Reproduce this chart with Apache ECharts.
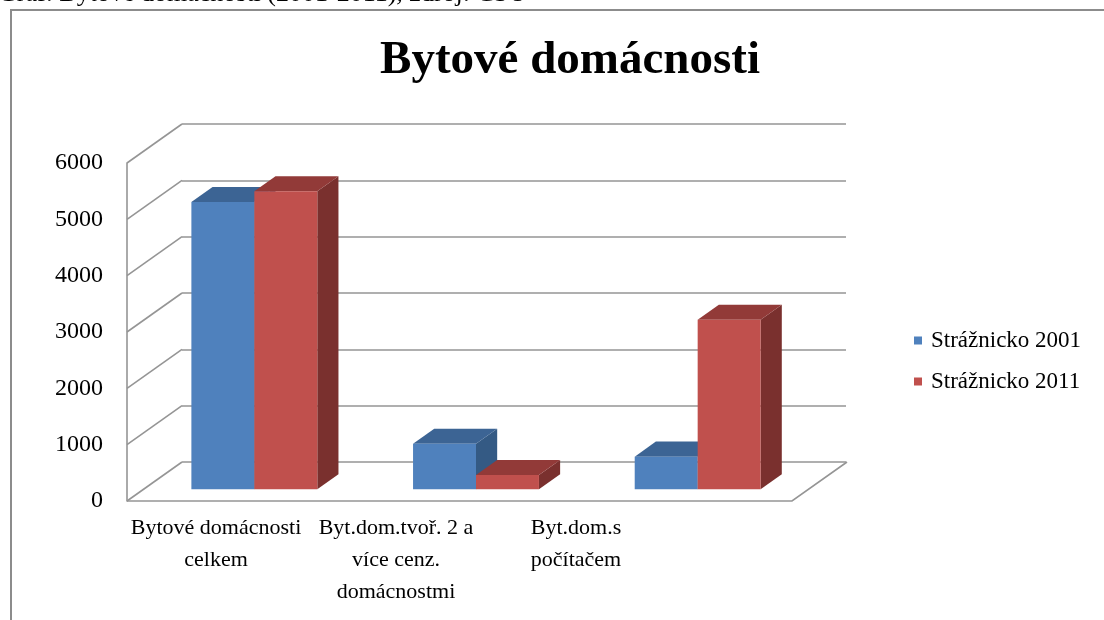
<!DOCTYPE html>
<html>
<head>
<meta charset="utf-8">
<script src="https://cdn.jsdelivr.net/npm/echarts@6/dist/echarts.min.js"></script>
<style>
  html, body { margin: 0; padding: 0; background: #fff; }
  #main { width: 1104px; height: 620px; }
</style>
</head>
<body>
<div id="main"></div>
<script>
// data
var categories = ['Bytové domácnosti\ncelkem', 'Byt.dom.tvoř. 2 a\nvíce cenz.\ndomácnostmi', 'Byt.dom.s\npočítačem'];
var seriesNames = ['Strážnicko 2001', 'Strážnicko 2011'];
var values2001 = [5100, 810, 580];
var values2011 = [5290, 255, 3010];
var yTicks = [0, 1000, 2000, 3000, 4000, 5000, 6000];

// 3d look: depth offset of the back wall, bar placement inside the depth
var DX = 55, DY = -39;
var FRONT = 0.3, DEPTH = 0.385, BAR_FRAC = 0.284;
var GRID_COL = '#959595';
var FONT = '"Liberation Serif", "Times New Roman", serif';

function barRender(idx, face, topc, side) {
  return function (params, api) {
    var cat = api.value(0), v = api.value(1);
    var base = api.coord([cat, 0]);
    var top = api.coord([cat, v]);
    var bw = api.size([1, 0])[0] * BAR_FRAC;
    var fx = DX * FRONT, fy = DY * FRONT;
    var bx = DX * DEPTH, by = DY * DEPTH;
    var x0 = base[0] + fx + (idx === 0 ? -bw : 0);
    var x1 = x0 + bw;
    var yb = base[1] + fy, yt = top[1] + fy;
    return {
      type: 'group',
      children: [
        { type: 'polygon', shape: { points: [[x1, yb], [x1 + bx, yb + by], [x1 + bx, yt + by], [x1, yt]] }, style: { fill: side } },
        { type: 'polygon', shape: { points: [[x0, yt], [x1, yt], [x1 + bx, yt + by], [x0 + bx, yt + by]] }, style: { fill: topc } },
        { type: 'rect', shape: { x: x0, y: yt, width: bw, height: yb - yt }, style: { fill: face } }
      ]
    };
  };
}

var chart = echarts.init(document.getElementById('main'));
var option = {
  animation: false,
  title: {
    text: 'Bytové domácnosti',
    left: 565, top: 32, textAlign: 'center',
    textStyle: { fontFamily: FONT, fontWeight: 'bold', fontSize: 47, color: '#000' }
  },
  legend: {
    orient: 'vertical', left: 909, top: 324,
    itemWidth: 8, itemHeight: 8, itemGap: 18, icon: 'rect',
    data: seriesNames,
    textStyle: { fontFamily: FONT, fontSize: 23, color: '#000', padding: [0, 0, 0, 4] }
  },
  graphic: [
    { type: 'rect', shape: { x: 11, y: 10, width: 1300, height: 800 }, style: { fill: null, stroke: '#8c8c8c', lineWidth: 2 }, silent: true },
    { type: 'text', x: -2, y: 7, style: { text: 'Graf: Bytové domácnosti (2001-2011), zdroj: ČSÚ', fontFamily: FONT, fontSize: 26, fill: '#000', verticalAlign: 'bottom', textVerticalAlign: 'bottom' } }
  ],
  grid: [
    { left: 127, right: 312, top: 163, bottom: 119 },   // front plane
    { left: 126, width: 540, top: 163, bottom: 119 },   // category labels
    { left: 182, right: 258, top: 124, bottom: 158 }    // back wall
  ],
  xAxis: [
    { type: 'category', gridIndex: 0, data: categories, axisLine: { show: false }, axisTick: { show: false }, axisLabel: { show: false } },
    { type: 'category', gridIndex: 1, data: categories, axisLine: { show: false }, axisTick: { show: false },
      axisLabel: { margin: 11, fontFamily: FONT, fontSize: 22, lineHeight: 32, color: '#000', interval: 0 } },
    { type: 'category', gridIndex: 2, data: categories, axisLine: { show: false }, axisTick: { show: false }, axisLabel: { show: false } }
  ],
  yAxis: [
    { type: 'value', gridIndex: 0, min: 0, max: 6000, interval: 1000,
      axisLine: { show: true, lineStyle: { color: GRID_COL, width: 1.6 } }, axisTick: { show: false },
      splitLine: { show: false },
      axisLabel: { margin: 24, fontFamily: FONT, fontSize: 24, color: '#000', formatter: function (v) { return String(v); } } },
    { type: 'value', gridIndex: 1, min: 0, max: 6000, interval: 1000, show: false },
    { type: 'value', gridIndex: 2, min: 0, max: 6000, interval: 1000,
      axisLine: { show: false }, axisTick: { show: false }, axisLabel: { show: false },
      splitLine: { show: true, lineStyle: { color: GRID_COL, width: 1.6 } } }
  ],
  series: [
    {
      type: 'custom', xAxisIndex: 0, yAxisIndex: 0, silent: true, z: 1,
      data: yTicks.map(function (v) { return [0, v]; }),
      renderItem: function (params, api) {
        var x = params.coordSys.x;
        var y = api.coord([0, api.value(1)])[1];
        return { type: 'line', shape: { x1: x, y1: y, x2: x + DX, y2: y + DY }, style: { stroke: GRID_COL, lineWidth: 1.6 } };
      }
    },
    {
      type: 'custom', xAxisIndex: 0, yAxisIndex: 0, silent: true, z: 1,
      data: [[0, 0]],
      renderItem: function (params, api) {
        var cs = params.coordSys;
        var y0 = api.coord([0, 0])[1];
        var xr = cs.x + cs.width;
        return { type: 'polyline', shape: { points: [[cs.x, y0], [xr, y0], [xr + DX, y0 + DY]] }, style: { stroke: GRID_COL, lineWidth: 1.6, fill: null } };
      }
    },
    {
      name: seriesNames[0], type: 'custom', xAxisIndex: 0, yAxisIndex: 0, z: 3,
      itemStyle: { color: '#4f81bd' },
      data: values2001.map(function (v, i) { return [i, v]; }),
      renderItem: barRender(0, '#4f81bd', '#3c6494', '#345a84')
    },
    {
      name: seriesNames[1], type: 'custom', xAxisIndex: 0, yAxisIndex: 0, z: 4,
      itemStyle: { color: '#c0504d' },
      data: values2011.map(function (v, i) { return [i, v]; }),
      renderItem: barRender(1, '#c0504d', '#923a38', '#7a302e')
    }
  ]
};
chart.setOption(option);
</script>
</body>
</html>
